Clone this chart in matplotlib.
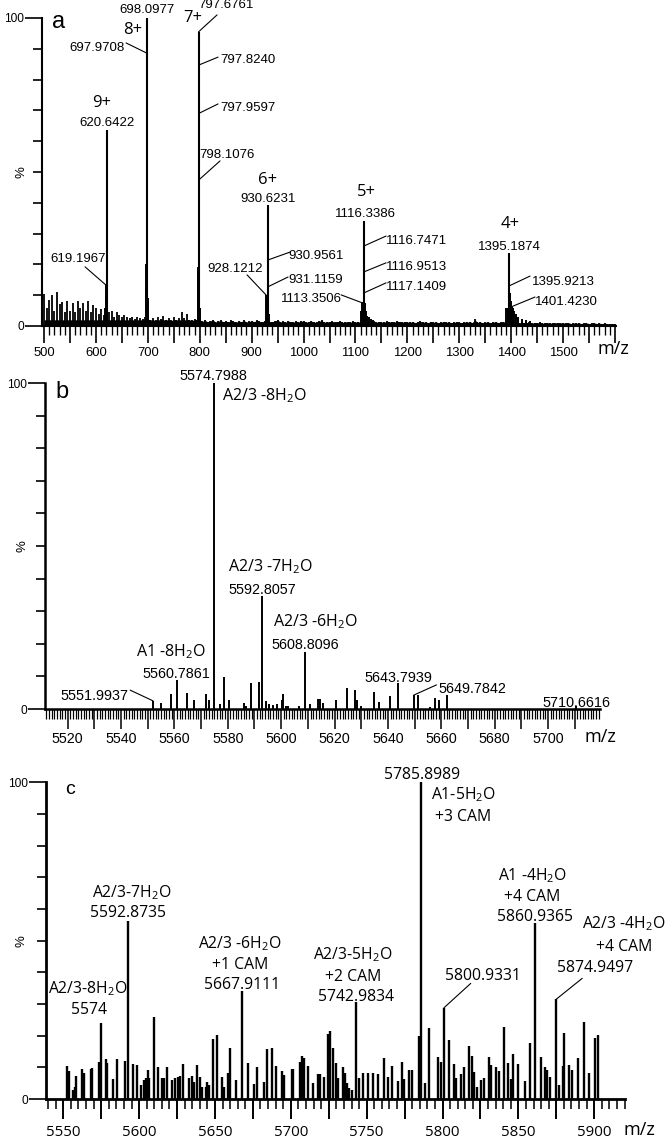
import numpy as np
import matplotlib
matplotlib.use("Agg")
import matplotlib.pyplot as plt
from matplotlib.ticker import MultipleLocator, FuncFormatter

plt.rcParams["font.family"] = ["Liberation Sans", "DejaVu Sans"]
plt.rcParams["mathtext.default"] = "regular"

HUMAN = ["Open Sans", "DejaVu Sans"]

# ---------------- panel a: charge state series ----------------
a_main_mz = [620.6422, 698.0977, 797.6761, 930.6231, 1116.3386, 1395.1874]
a_main_int = [63.6, 100.0, 95.5, 39.3, 34.2, 23.7]
a_charge = ["9+", "8+", "7+", "6+", "5+", "4+"]

# labelled isotope / adduct peaks sitting on the main peaks
a_iso_mz = [619.1967, 697.9708, 797.8240, 797.9597, 798.1076, 928.1212, 930.9561,
            931.1159, 1113.3506, 1116.7471, 1116.9513, 1117.1409, 1395.9213, 1401.4230]
a_iso_int = [13.3, 88.6, 84.7, 69.0, 47.4, 10.0, 21.4, 12.7, 7.5, 26.0, 17.6, 10.8, 13.0, 6.3]

# unlabelled cluster peaks around each charge state
a_env_mz = [618.0, 619.8, 621.2, 622.0, 696.5, 697.3, 698.6, 699.2, 700.0, 701.0,
            795.8, 796.6, 797.2, 798.6, 799.3, 800.2, 801.2, 929.2, 929.9, 931.6, 932.4, 933.5,
            1111.5, 1114.5, 1115.5, 1117.8, 1118.6, 1119.6, 1121.0, 1123.0, 1125.5, 1129.0, 1134.0,
            1391.0, 1393.0, 1394.3, 1396.6, 1397.5, 1398.5, 1400.0, 1403.0, 1405.5, 1409.0,
            1414.0, 1420.0, 1428.0, 1436.0]
a_env_int = [6.0, 9.0, 8.0, 5.0, 12.0, 20.0, 21.0, 16.0, 9.0, 5.0,
             10.0, 18.0, 19.0, 17.0, 10.0, 6.0, 4.0, 6.0, 9.0, 10.0, 6.0, 4.0,
             5.0, 7.8, 7.8, 7.5, 6.5, 5.0, 4.0, 3.2, 2.8, 2.2, 1.8,
             5.8, 5.8, 6.0, 8.0, 10.7, 10.0, 8.0, 6.0, 5.0, 4.0,
             3.0, 2.4, 2.0, 1.6]

# baseline noise, one value every 5 m/z starting at 500
a_noise_start = 500
a_noise_step = 5
a_noise_int = [
    10.5, 6.0, 8.5, 10.0, 5.0, 11.0, 7.0, 7.8, 4.5, 8.0, 5.0, 7.5, 4.5, 8.0, 6.0, 7.5, 5.0, 8.0, 4.5, 6.7,
    6.0, 4.0, 5.5, 3.5, 3.0, 4.5, 5.0, 3.0, 4.5, 3.5, 3.0, 3.5, 3.0, 2.5, 3.0, 2.2, 2.8, 2.5, 2.2, 2.8,
    2.5, 2.0, 2.5, 1.8, 3.0, 2.2, 3.2, 2.0, 2.5, 1.8, 2.8, 2.0, 2.5, 4.6, 2.5, 3.8, 2.0, 1.8, 2.2, 2.0,
    2.0, 1.5, 1.8, 1.4, 1.6, 2.0, 1.3, 1.5, 1.8, 1.4, 1.6, 1.3, 1.8, 1.5, 1.2, 1.6, 1.4, 1.8, 1.3, 1.5,
    1.6, 1.4, 1.8, 1.5, 1.3, 1.7, 1.5, 1.2, 1.4, 1.6, 2.0, 1.3, 1.5, 1.2, 1.6, 1.4, 1.2, 1.5, 1.3, 1.6,
    1.5, 1.2, 1.4, 1.6, 1.2, 1.3, 1.5, 1.8, 1.2, 1.4, 1.3, 1.5, 1.2, 1.4, 1.6, 1.2, 1.3, 1.4, 1.2, 1.5,
    1.3, 1.4, 1.2, 1.5, 1.4, 1.6, 1.3, 1.5, 1.2, 1.4, 1.3, 1.2, 1.5, 1.3, 1.4, 1.2, 1.6, 1.3, 1.2, 1.4,
    1.3, 1.2, 1.4, 1.1, 1.3, 1.5, 1.2, 1.3, 1.1, 1.4, 1.2, 1.3, 1.1, 1.2, 1.4, 1.2, 1.3, 1.1, 1.2, 1.3,
    1.2, 1.1, 1.3, 1.2, 1.4, 1.1, 2.2, 1.2, 1.3, 1.1, 1.2, 1.3, 1.1, 1.2, 1.4, 1.1, 1.2, 1.3, 1.5, 1.8,
    1.5, 1.2, 1.1, 1.0, 1.2, 1.1, 1.0, 1.2, 0.9, 1.1, 1.0, 1.2, 0.9, 1.0, 1.1, 0.9, 1.0, 1.1, 0.9, 1.0,
    1.0, 0.9, 1.1, 0.8, 1.0, 0.9, 1.0, 0.8, 0.9, 1.0, 0.8, 0.9, 1.0, 0.8, 0.9, 0.8, 0.9, 0.8, 0.7, 0.8, 0.7,
]

# ---------------- panel b: deconvoluted spectrum ----------------
b_mz = [5551.9937, 5555.0, 5558.6, 5560.7861, 5564.8, 5567.3, 5571.7, 5573.1, 5574.7988,
        5577.1, 5578.7, 5580.5, 5586.2, 5586.8, 5588.7, 5591.7, 5592.8057, 5594.2, 5595.6,
        5596.8, 5598.6, 5600.2, 5600.8, 5601.7, 5602.7, 5606.8, 5608.8096, 5610.8, 5613.9,
        5614.6, 5615.8, 5620.7, 5624.8, 5627.8, 5628.5, 5630.0, 5634.8, 5636.6, 5640.9,
        5643.7939, 5649.7842, 5651.3, 5655.9, 5657.6, 5659.2, 5662.3, 5710.6616]
b_int = [2.5, 1.7, 4.6, 8.9, 5.0, 2.9, 4.6, 2.7, 100.0,
         1.5, 9.9, 2.7, 2.0, 1.0, 7.9, 8.4, 34.7, 2.5, 1.5,
         1.2, 1.5, 2.9, 4.6, 1.0, 0.8, 1.0, 17.6, 1.5, 3.2,
         3.2, 1.7, 2.9, 6.5, 5.8, 2.9, 0.8, 5.3, 2.2, 3.9,
         8.0, 4.3, 4.3, 0.6, 3.5, 2.9, 4.3, 0.8]

# ---------------- panel c: carbamidomethylated sample ----------------
c_mz = [5552.2, 5553.8, 5556.6, 5557.7, 5558.4, 5562.1, 5563.6, 5568.1, 5569.1, 5573.7,
        5575.0, 5578.0, 5579.0, 5582.6, 5585.6, 5590.7, 5592.8735, 5596.1, 5598.4, 5601.0,
        5603.2, 5604.5, 5605.6, 5606.7, 5610.0, 5612.2, 5615.3, 5616.6, 5618.2, 5621.5,
        5623.6, 5625.4, 5626.9, 5629.1, 5632.9, 5634.6, 5636.2, 5638.3, 5640.1, 5641.6,
        5643.9, 5644.9, 5646.0, 5648.9, 5651.1, 5654.4, 5655.9, 5658.4, 5659.9, 5663.8,
        5667.9111, 5672.0, 5675.9, 5677.9, 5682.3, 5684.5, 5687.8, 5690.2, 5694.4, 5695.7,
        5700.6, 5701.6, 5706.0, 5707.5, 5708.7, 5711.5, 5714.4, 5717.7, 5719.2, 5722.1,
        5724.3, 5725.8, 5728.0, 5729.6, 5731.3, 5734.6, 5735.7, 5737.2, 5738.5, 5740.1,
        5742.9834, 5744.9, 5747.8, 5751.1, 5754.4, 5757.3, 5761.6, 5764.2, 5766.5, 5770.4,
        5773.1, 5774.8, 5777.9, 5779.7, 5784.3, 5785.8989, 5788.4, 5791.1, 5797.2, 5799.2,
        5800.9331, 5804.5, 5807.6, 5808.9, 5812.0, 5814.3, 5817.6, 5819.6, 5820.9, 5822.5,
        5825.3, 5827.5, 5830.6, 5831.9, 5835.2, 5837.4, 5840.5, 5843.3, 5845.1, 5846.6,
        5849.9, 5854.3, 5857.6, 5860.9365, 5864.9, 5867.5, 5869.1, 5870.8, 5874.9497, 5876.8,
        5879.2, 5880.3, 5883.6, 5885.1, 5889.1, 5893.4, 5896.5, 5900.5, 5902.3]
c_int = [10.5, 8.9, 2.8, 3.9, 7.4, 9.4, 8.1, 9.4, 9.7, 11.8,
         24.1, 12.6, 11.3, 6.3, 12.6, 12.1, 56.2, 11.0, 10.7, 4.4,
         6.0, 6.5, 9.2, 6.5, 25.8, 10.2, 6.5, 6.5, 10.0, 6.0,
         6.7, 7.0, 7.3, 11.0, 6.7, 7.3, 5.5, 10.7, 7.0, 3.9,
         3.9, 5.5, 4.4, 18.9, 20.2, 7.0, 3.9, 8.1, 16.0, 6.0,
         34.2, 11.3, 4.6, 10.0, 5.5, 15.7, 16.0, 10.5, 9.0, 7.7,
         9.4, 9.4, 11.8, 13.6, 12.9, 10.5, 5.2, 7.9, 7.9, 7.0,
         20.4, 21.5, 16.0, 11.3, 6.5, 10.0, 8.3, 5.0, 3.4, 2.7,
         30.7, 6.5, 8.3, 8.3, 8.1, 7.9, 13.0, 7.0, 10.5, 5.8,
         11.6, 6.2, 9.2, 9.2, 20.0, 100.0, 5.0, 22.5, 13.4, 11.6,
         28.8, 18.6, 11.0, 6.5, 7.9, 10.2, 16.7, 13.6, 8.6, 3.9,
         6.0, 6.7, 13.4, 10.7, 10.2, 9.0, 22.8, 11.3, 6.3, 14.2,
         11.0, 5.8, 17.8, 55.7, 13.4, 10.0, 9.2, 7.0, 31.5, 4.4,
         10.5, 20.9, 10.7, 9.2, 12.9, 24.4, 8.3, 19.2, 20.2]


def style_panel(ax, xlim, major, minor, label_every, label_max, tick_family, tick_size,
                spine_w, maj_len, min_len, tick_w, pad):
    ax.set_xlim(*xlim)
    ax.set_ylim(0, 100)
    for s in ("top", "right"):
        ax.spines[s].set_visible(False)
    for s in ("left", "bottom"):
        ax.spines[s].set_linewidth(spine_w)
    ax.xaxis.set_major_locator(MultipleLocator(major))
    ax.xaxis.set_minor_locator(MultipleLocator(minor))
    ax.xaxis.set_major_formatter(FuncFormatter(
        lambda v, p: f"{v:.0f}" if round(v) % label_every == 0 and v <= label_max else ""))
    ax.tick_params(axis="x", which="major", length=maj_len, width=tick_w, pad=pad,
                   labelsize=tick_size)
    ax.tick_params(axis="x", which="minor", length=min_len, width=tick_w * 0.8)
    for lab in ax.get_xticklabels():
        lab.set_family(tick_family)
    ax.set_yticks([0, 100])
    ax.set_yticklabels(["0", "100"])
    ax.yaxis.set_minor_locator(MultipleLocator(10))
    ax.tick_params(axis="y", which="major", length=12, width=1.2, pad=1, labelsize=8.6)
    ax.tick_params(axis="y", which="minor", length=6.5, width=1.2)


def leader(ax, peak, end, lw=0.8):
    ax.annotate("", xy=peak, xytext=end,
                arrowprops=dict(arrowstyle="-", lw=lw, color="black", shrinkA=0, shrinkB=0),
                annotation_clip=False)


fig = plt.figure(figsize=(6.66, 11.39), dpi=100)

# ================= panel a =================
ax = fig.add_axes([0.0631, 0.7138, 0.8619, 0.2704])
noise_mz = np.arange(len(a_noise_int)) * a_noise_step + a_noise_start
ax.vlines(noise_mz, 0, a_noise_int, color="black", lw=1.3)
ax.fill_between(noise_mz, 0, np.minimum(a_noise_int, 2.0), color="black", lw=0)
ax.vlines(a_env_mz, 0, a_env_int, color="black", lw=1.4)
ax.vlines(a_iso_mz, 0, a_iso_int, color="black", lw=1.4)
ax.vlines(a_main_mz, 0, a_main_int, color="black", lw=1.5)
style_panel(ax, (496.1, 1602.1), 50, 10, 100, 1500, ["Liberation Sans"], 9.4,
            1.5, 12.2, 6.5, 1.2, 3.0)

num = dict(fontsize=9.5, va="center", clip_on=False)
for txt, x, y, ha in [
    ("698.0977", 698.5, 102.6, "center"), ("697.9708", 656.1, 90.3, "right"),
    ("797.6761", 851.3, 104.2, "center"), ("797.8240", 839.1, 86.4, "left"),
    ("797.9597", 839.1, 70.8, "left"), ("798.1076", 852.0, 55.5, "center"),
    ("620.6422", 621.4, 65.9, "center"), ("619.1967", 565.5, 21.8, "center"),
    ("930.6231", 931.6, 41.2, "center"), ("928.1212", 868.0, 18.5, "center"),
    ("930.9561", 970.1, 22.7, "left"), ("931.1159", 970.1, 14.9, "left"),
    ("1113.3506", 1014.5, 8.8, "center"), ("1116.3386", 1118.5, 36.4, "center"),
    ("1116.7471", 1159.0, 27.6, "left"), ("1116.9513", 1159.0, 19.2, "left"),
    ("1117.1409", 1159.0, 12.7, "left"), ("1395.1874", 1396.0, 25.6, "center"),
    ("1395.9213", 1440.3, 14.3, "left"), ("1401.4230", 1446.0, 7.8, "left"),
]:
    ax.text(x, y, txt, ha=ha, **num)

for z, x, y in zip(a_charge, [611.8, 671.5, 787.1, 931.6, 1120.4, 1397.9],
                   [72.4, 96.1, 100.0, 47.4, 43.5, 33.1]):
    ax.text(x, y, z, ha="center", va="center", fontsize=12, family=HUMAN, clip_on=False)

for peak, end in [
    ((697.9708, 88.6), (658.0, 91.9)), ((797.6761, 95.5), (833.3, 101.0)),
    ((797.8240, 84.7), (835.3, 87.3)), ((797.9597, 69.0), (835.3, 72.1)),
    ((798.1076, 47.4), (839.1, 53.6)), ((619.1967, 13.3), (579.0, 19.2)),
    ((928.1212, 10.0), (891.1, 16.6)), ((930.9561, 21.4), (974.0, 24.0)),
    ((931.1159, 12.7), (970.1, 15.9)), ((1113.3506, 7.5), (1072.3, 10.1)),
    ((1116.7471, 26.0), (1159.0, 29.2)), ((1116.9513, 17.6), (1159.0, 20.5)),
    ((1117.1409, 10.8), (1159.0, 14.0)), ((1395.9213, 13.0), (1436.4, 16.2)),
    ((1401.4230, 6.3), (1446.0, 9.4)),
]:
    leader(ax, peak, end)

ax.text(528.9, 98.7, "a", fontsize=17, ha="center", va="center")
ax.text(-0.035, 0.5, "%", rotation=90, transform=ax.transAxes, ha="center", va="center",
        fontsize=9.5)
ax.text(0.995, -0.075, "m/z", transform=ax.transAxes, ha="center", va="center",
        fontsize=13, family=HUMAN)

# ================= panel b =================
ax = fig.add_axes([0.0676, 0.3775, 0.8333, 0.2862])
ax.vlines(b_mz, 0, b_int, color="black", lw=1.4)
style_panel(ax, (5511.5, 5719.5), 10, 1, 20, 5700, ["Liberation Sans"], 10.3,
            1.8, 14.4, 7.5, 1.1, 2.5)

for txt, x, y in [
    ("5574.7988", 5574.5, 102.1), ("5592.8057", 5592.8, 36.5), ("5608.8096", 5608.9, 19.6),
    ("5560.7861", 5560.7, 10.6), ("5551.9937", 5530.1, 4.0), ("5643.7939", 5644.1, 9.4),
    ("5649.7842", 5671.5, 6.1), ("5710.6616", 5710.6, 1.9),
]:
    ax.text(x, y, txt, ha="center", fontsize=10.4, va="center", clip_on=False)

for txt, x, y in [
    ("A2/3 -8H$_2$O", 5593.6, 96.0), ("A2/3 -7H$_2$O", 5595.9, 43.7),
    ("A2/3 -6H$_2$O", 5613.0, 26.8), ("A1 -8H$_2$O", 5558.8, 17.6),
]:
    ax.text(x, y, txt, ha="center", va="center", fontsize=11.5, family=HUMAN)

leader(ax, (5551.9937, 2.5), (5543.4, 5.8))
leader(ax, (5649.7842, 4.3), (5658.2, 7.4))

ax.text(5517.8, 97.3, "b", fontsize=17, ha="center", va="center")
ax.text(-0.041, 0.5, "%", rotation=90, transform=ax.transAxes, ha="center", va="center",
        fontsize=9.5)
ax.text(1.0, -0.086, "m/z", transform=ax.transAxes, ha="center", va="center",
        fontsize=13, family=HUMAN)

# ================= panel c =================
ax = fig.add_axes([0.0686, 0.0351, 0.8694, 0.2781])
ax.vlines(c_mz, 0, c_int, color="black", lw=1.7)
style_panel(ax, (5538.4, 5920.1), 25, 5, 50, 5900, HUMAN, 10.8,
            2.0, 14.4, 7.2, 1.4, 4.0)

lab = dict(ha="center", va="center", fontsize=11.3, family=HUMAN, clip_on=False)
for txt, x, y in [
    ("A2/3-7H$_2$O", 5595.1, 65.0), ("5592.8735", 5592.8, 58.6),
    ("A2/3-8H$_2$O", 5566.5, 35.0), ("5574", 5567.1, 28.1),
    ("A2/3 -6H$_2$O", 5666.5, 49.2), ("+1 CAM", 5666.5, 42.3), ("5667.9111", 5668.0, 36.0),
    ("A2/3-5H$_2$O", 5741.2, 45.5), ("+2 CAM", 5741.2, 38.6), ("5742.9834", 5743.0, 32.3),
    ("5785.8989", 5786.7, 102.3), ("A1-5H$_2$O", 5814.0, 96.0), ("+3 CAM", 5813.5, 89.1),
    ("A1 -4H$_2$O", 5859.0, 70.5), ("+4 CAM", 5859.0, 63.9), ("5860.9365", 5861.1, 57.6),
    ("A2/3 -4H$_2$O", 5919.6, 55.3), ("+4 CAM", 5919.4, 48.1),
    ("5874.9497", 5900.7, 41.3), ("5800.9331", 5826.7, 38.8),
]:
    ax.text(x, y, txt, **lab)

leader(ax, (5874.9497, 31.5), (5892.1, 38.1))
leader(ax, (5800.9331, 28.8), (5818.6, 36.5))

ax.text(5554.4, 97.6, "c", fontsize=14, ha="center", va="center")
ax.text(-0.041, 0.5, "%", rotation=90, transform=ax.transAxes, ha="center", va="center",
        fontsize=9.5)
ax.text(1.026, -0.098, "m/z", transform=ax.transAxes, ha="center", va="center",
        fontsize=13, family=HUMAN)

fig.savefig("out.png", dpi=100)
